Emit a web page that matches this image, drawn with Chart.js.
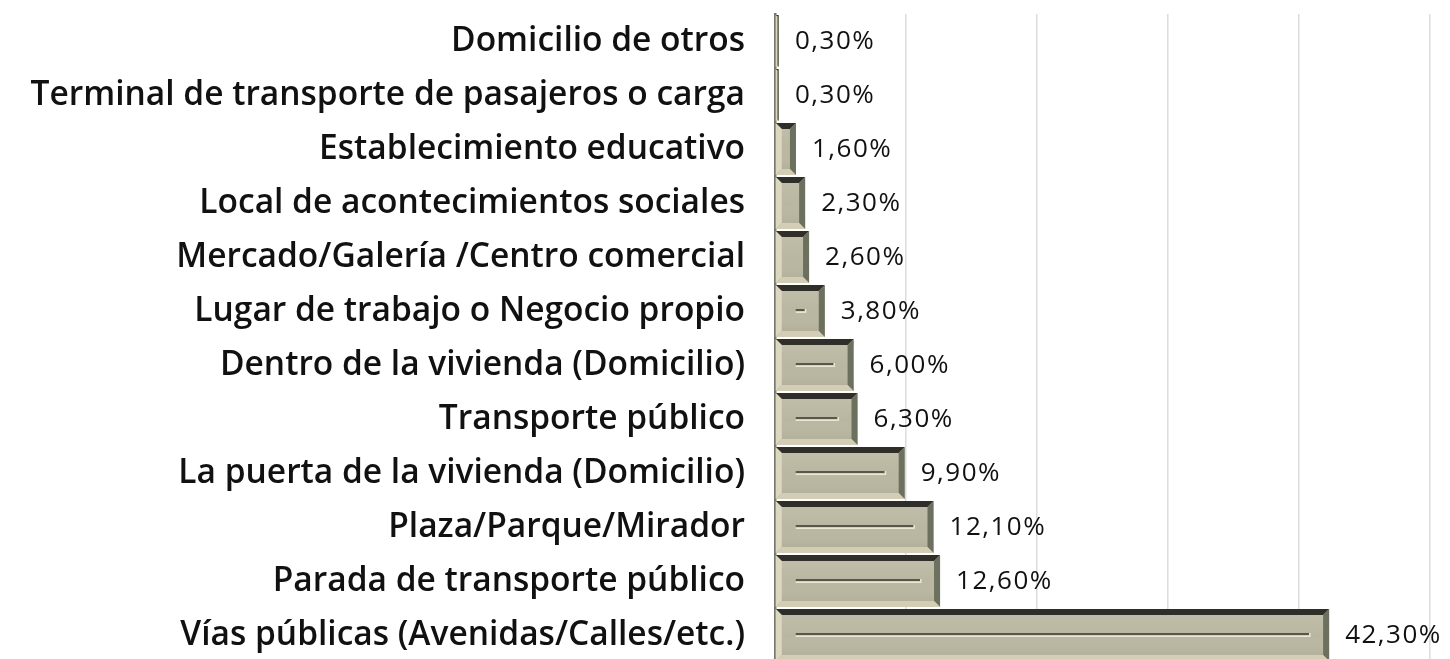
<!DOCTYPE html>
<html>
<head>
<meta charset="utf-8">
<script src="https://cdn.jsdelivr.net/npm/chart.js@4/dist/chart.umd.min.js"></script>
<style>
html,body{margin:0;padding:0;background:#fff;overflow:hidden;}
#wrap{width:1450px;height:662px;}
</style>
</head>
<body>
<div id="wrap"><canvas id="c" width="1450" height="662"></canvas></div>
<script>
const categories = [
  "Domicilio de otros",
  "Terminal de transporte de pasajeros o carga",
  "Establecimiento educativo",
  "Local de acontecimientos sociales",
  "Mercado/Galería /Centro comercial",
  "Lugar de trabajo o Negocio propio",
  "Dentro de la vivienda (Domicilio)",
  "Transporte público",
  "La puerta de la vivienda (Domicilio)",
  "Plaza/Parque/Mirador",
  "Parada de transporte público",
  "Vías públicas (Avenidas/Calles/etc.)"
];
const values = [0.3, 0.3, 1.6, 2.3, 2.6, 3.8, 6.0, 6.3, 9.9, 12.1, 12.6, 42.3];
const axisMax = 50;
const axisStep = 10;

function fmt(v){ return v.toFixed(2).replace('.', ',') + '%'; }

const bevelPlugin = {
  id: 'bevel',
  afterDatasetsDraw(chart){
    const ctx = chart.ctx;
    const meta = chart.getDatasetMeta(0);
    meta.data.forEach((el, i) => {
      const p = el.getProps(['x','y','base','height'], true);
      const left = Math.min(p.base, p.x), right = Math.max(p.base, p.x);
      const top = p.y - p.height/2, bottom = p.y + p.height/2;
      const w = right - left;
      const b = Math.min(6, w/2);
      ctx.save();
      const g = ctx.createLinearGradient(0, top, 0, bottom);
      g.addColorStop(0, 'rgba(255,255,255,0.12)');
      g.addColorStop(0.5, 'rgba(255,255,255,0)');
      g.addColorStop(1, 'rgba(60,60,40,0.10)');
      ctx.fillStyle = g;
      ctx.fillRect(left, top, w, p.height);
      ctx.fillStyle = '#2f2e28';
      ctx.beginPath();
      ctx.moveTo(left, top); ctx.lineTo(right, top); ctx.lineTo(right-b, top+b); ctx.lineTo(left+b, top+b); ctx.closePath(); ctx.fill();
      ctx.fillStyle = '#dcd7c0';
      ctx.beginPath();
      ctx.moveTo(left, top); ctx.lineTo(left+b, top+b); ctx.lineTo(left+b, bottom-b); ctx.lineTo(left, bottom); ctx.closePath(); ctx.fill();
      ctx.fillStyle = '#6c705e';
      ctx.beginPath();
      ctx.moveTo(right, top); ctx.lineTo(right, bottom); ctx.lineTo(right-b, bottom-b); ctx.lineTo(right-b, top+b); ctx.closePath(); ctx.fill();
      ctx.fillStyle = '#d3cdb5';
      ctx.beginPath();
      ctx.moveTo(left, bottom); ctx.lineTo(right, bottom); ctx.lineTo(right-b, bottom-b); ctx.lineTo(left+b, bottom-b); ctx.closePath(); ctx.fill();
      if (w > 45) {
        const gx1 = left + b + 14, gx2 = right - b - 14;
        ctx.strokeStyle = '#57584b'; ctx.lineWidth = 2;
        ctx.beginPath(); ctx.moveTo(gx1, p.y - 1); ctx.lineTo(gx2, p.y - 1); ctx.stroke();
        ctx.strokeStyle = '#ebe7d3'; ctx.lineWidth = 1.5;
        ctx.beginPath(); ctx.moveTo(gx1, p.y + 1.2); ctx.lineTo(gx2, p.y + 1.2); ctx.stroke();
        ctx.fillStyle = '#ebe7d3';
        ctx.fillRect(gx2, p.y - 2, 1.5, 4);
      }
      ctx.restore();
      ctx.save();
      ctx.fillStyle = '#111';
      ctx.font = '500 26px "Open Sans"';
      try { ctx.letterSpacing = '1.5px'; } catch(e) {}
      ctx.textAlign = 'left';
      ctx.textBaseline = 'middle';
      ctx.fillText(fmt(values[i]), right + 16, p.y + 1);
      ctx.restore();
    });
  }
};

new Chart(document.getElementById('c'), {
  type: 'bar',
  data: {
    labels: categories,
    datasets: [{
      data: values,
      backgroundColor: '#b9b7a0',
      borderWidth: 0,
      barPercentage: 1.0,
      categoryPercentage: 0.96
    }]
  },
  options: {
    indexAxis: 'y',
    responsive: false,
    animation: false,
    layout: { padding: { top: 14, right: 20, bottom: 0, left: 0 } },
    plugins: { legend: { display: false }, tooltip: { enabled: false } },
    scales: {
      x: {
        min: 0, max: axisMax,
        ticks: { display: false, stepSize: axisStep },
        grid: { color: '#dcdcdc', lineWidth: 1.5, drawTicks: false },
        border: { display: false },
        afterFit(s){ s.height = 0; s.paddingLeft = 0; s.paddingRight = 0; s.paddingTop = 0; s.paddingBottom = 0; }
      },
      y: {
        ticks: { color: '#111', font: { family: 'Open Sans', weight: '600', size: 33.5 }, padding: 30 },
        grid: { display: false, drawTicks: false },
        border: { display: true, color: '#76766b', width: 2.5 },
        afterFit(s){ s.width = 775; s.paddingTop = 0; s.paddingBottom = 0; s.paddingLeft = 0; s.paddingRight = 0; }
      }
    }
  },
  plugins: [bevelPlugin]
});
</script>
</body>
</html>
